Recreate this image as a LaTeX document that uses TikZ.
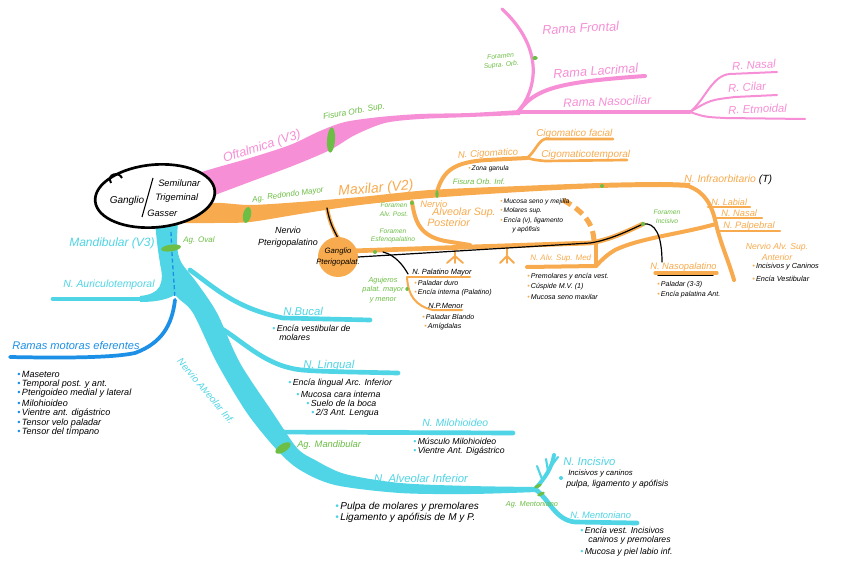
\documentclass[tikz,border=0pt]{standalone}
\usepackage{fontspec}
\setmainfont{Liberation Sans}
\usetikzlibrary{shapes.geometric}
\definecolor{pk}{HTML}{F78FD6}
\definecolor{og}{HTML}{F8AB4E}
\definecolor{cy}{HTML}{4FD5E5}
\definecolor{db}{HTML}{1C8FE6}
\definecolor{gr}{HTML}{6CBE45}
\newcommand\hw[1]{\fontsize{#1}{\fpeval{#1*1.3}}\selectfont\itshape}
\newcommand\bu[1]{\textcolor{#1}{\textbullet}\,}
\begin{document}
\begin{tikzpicture}[x=0.75pt,y=-0.75pt,
  tx/.style={inner sep=0pt, anchor=west, font=\hw{#1}},
  tc/.style={inner sep=0pt, anchor=center, align=center, font=\hw{#1}},
  gband/.style={ellipse, fill=gr, inner sep=0pt},
  pkl/.style={pk, line width=#1, line cap=round},
  ogl/.style={og, line width=#1, line cap=round},
  cyl/.style={cy, line width=#1, line cap=round},
  blk/.style={black, line width=0.9pt, line cap=round}
]
\useasboundingbox (0,0) rectangle (848,566);
\fill[white] (0,0) rectangle (848,566);

% ---------- junction coordinates
\coordinate (pkEnd) at (518,112);
\coordinate (nasoJ) at (690,112);
\coordinate (ogEnd) at (688,186);
\coordinate (cigJ) at (437,192);
\coordinate (cigF) at (527,158);
\coordinate (aspJ) at (412,202);
\coordinate (ptJ) at (327,208);
\coordinate (incJ) at (643,224);
\coordinate (antJ) at (716,224);
\coordinate (medJ) at (596,266);
\coordinate (mandEnd) at (535,489);

% ================= OFTALMICA (pink)
\fill[pk] plot[smooth] coordinates {(182,178) (215,168) (250,158) (290,145) (320,131) (345,122) (380,117) (420,114) (470,113) (520,110)}
  -- plot[smooth] coordinates {(520,115) (470,117) (420,119) (385,123) (355,135) (330,150) (295,165) (255,180) (215,195) (200,201)} -- cycle;
\draw[pkl=2.4pt] (pkEnd) -- (nasoJ);
\draw[pkl=3pt] (pkEnd) .. controls (535,88) and (560,82) .. (645,76);
\draw[pkl=2.4pt] (pkEnd) .. controls (540,85) and (541,45) .. (502,9);
\draw[pkl=1.5pt] (nasoJ) .. controls (705,100) and (712,75) .. (730,74) -- (777,72);
\draw[pkl=1.5pt] (nasoJ) .. controls (710,100) .. (735,97) -- (777,95);
\draw[pkl=1.5pt] (nasoJ) .. controls (705,117) .. (725,118) -- (805,119);
\node[gband, minimum width=6pt, minimum height=19pt, rotate=-4] (gfos) at (331,140) {};
\node[gband, minimum width=4pt, minimum height=3pt] (gfsup) at (535,58) {};

\node[tx=9.5, pk, rotate=3] (rfront) at (542,30) {Rama Frontal};
\node[tx=9.5, pk, rotate=4] (rlac) at (553,74) {Rama Lacrimal};
\node[tx=9, pk, rotate=2] (rnaso) at (563,103) {Rama Nasociliar};
\node[tx=8.5, pk, rotate=3] (rnasal) at (732,66) {R. Nasal};
\node[tx=8.5, pk, rotate=3] (rcil) at (728,88) {R. Cilar};
\node[tx=8.5, pk, rotate=2] (retm) at (728,110) {R. Etmoidal};
\node[tc=9.5, pk, rotate=18] (oft) at (262,147) {Oftalmica (V3)};
\node[tc=6.3, gr, rotate=10] (fos) at (354,112) {Fisura Orb. Sup.};
\node[tc=5, gr, rotate=5] (fsup) at (501,61) {Foramen\\Supra. Orb.};

% ================= MAXILAR (orange)
\fill[og] plot[smooth] coordinates {(190,210) (215,203) (250,205) (300,202) (360,197) (430,190) (520,186) (600,183) (660,182) (690,183)}
  -- plot[smooth] coordinates {(690,188) (660,187) (600,188) (520,192) (430,198) (360,205) (300,214) (250,222) (215,223) (185,223)} -- cycle;
\draw[ogl=3pt] (ogEnd) .. controls (705,192) and (712,205) .. (antJ) .. controls (721,245) and (729,262) .. (734,280);
\draw[ogl=1.6pt] (708,207) -- (750,207);
\draw[ogl=1.6pt] (715,218) -- (762,218);
\draw[ogl=1.6pt] (720,231) -- (780,231);
% cigomatico
\draw[ogl=3pt] (cigJ) .. controls (443,170) and (455,162) .. (487,160) -- (cigF);
\draw[ogl=2pt] (cigF) .. controls (535,160) .. (545,161) -- (627,160);
\draw[ogl=2pt] (cigF) .. controls (535,152) and (538,141) .. (545,139) -- (613,139);
% alveolar sup posterior
\draw[ogl=3pt] (aspJ) .. controls (415,222) and (420,236) .. (445,241) -- (470,245);
% band A + C
\draw[ogl=3.5pt] (350,251) -- (590,243) .. controls (610,240) and (630,230) .. (incJ);
% dashed arc
\draw[og, line width=3.8pt, dash pattern=on 7pt off 4pt] (563,200) .. controls (585,212) and (594,225) .. (594,243);
% roots
\draw[ogl=1.4pt] (455,247) -- (455,256) -- (447,263) (455,256) -- (455,263) (455,256) -- (463,263);
\draw[ogl=1.4pt] (507,245) -- (507,256) -- (500,263) (507,256) -- (507,263) (507,256) -- (514,263);
% curve B to N. Alv. Sup. Med
\draw[ogl=3pt] (antJ) .. controls (680,234) and (640,238) .. (615,250) .. controls (605,256) and (600,262) .. (medJ) -- (527,267);
\draw[ogl=3pt] (596,244) -- (medJ);
% pterigopalatino branch
\draw[ogl=3pt] (ptJ) .. controls (330,225) and (335,232) .. (340,242);
\draw[blk] (ptJ) .. controls (330,225) and (335,232) .. (340,242);
\node[circle, fill=og, inner sep=0pt, minimum size=30pt] (gpt) at (338,257) {};
\node[tc=5.8] (gptt) at (338,257) {Ganglio\\Pterigopalat.};
% black nerve to nasopalatino
\draw[blk] (gpt.east) -- (590,243) .. controls (610,240) and (630,230) .. (incJ) .. controls (655,222) and (662,235) .. (662,262);
% palatinos
\draw[blk] (383,252) .. controls (395,255) and (403,265) .. (408,274);
\draw[ogl=1.5pt] (407,277) -- (470,277);
\draw[ogl=1.5pt] (407,277) .. controls (408,295) and (415,306) .. (433,310) -- (462,310);
% nasopalatino underline
\draw[ogl=2.4pt] (655,273) -- (717,273);
\draw[blk] (658,275.5) -- (713,275.5);
% green marks
\node[gband, minimum width=6pt, minimum height=12pt, rotate=-12] (grm) at (247,215) {};
\node[gband, minimum width=2.5pt, minimum height=6pt] (gfoi) at (437,194) {};
\node[gband, minimum width=3pt, minimum height=3pt] (gap) at (412,203) {};
\node[gband, minimum width=3pt, minimum height=3pt] (gesf) at (375,252) {};
\node[gband, minimum width=3pt, minimum height=3pt] (ginc) at (incJ) {};
\node[gband, minimum width=3pt, minimum height=3pt] (ginfo) at (602,186) {};
\node[gband, minimum width=2.5pt, minimum height=3pt] (gpal) at (407,289) {};

% maxilar texts
\node[tc=10.5, og, rotate=5] (maxl) at (376,189) {Maxilar (V2)};
\node[tc=6, gr, rotate=8] (agrm) at (288,195) {Ag. Redondo Mayor};
\node[tc=7.2, og, rotate=3] (ncig) at (488,154) {N. Cigomatico};
\node[tx=7.5, og] (cigfa) at (536,134) {Cigomatico facial};
\node[tx=7.5, og] (cigte) at (541,155) {Cigomaticotemporal};
\node[tx=5] (zona) at (468,169) {\bu{og}Zona ganula};
\node[tc=5.8, gr] (foi) at (479,182) {Fisura Orb. Inf.};
\node[tc=5, gr] (fap) at (394,210) {Foramen\\Alv. Post.};
\node[tx=7, og] (asp1) at (420,204) {Nervio};
\node[tx=8, og] (asp2) at (432,213) {Alveolar Sup.};
\node[tx=8, og] (asp3) at (427,223) {Posterior};
\node[tx=5] (b1) at (500,202) {\bu{og}Mucosa seno y mejilla};
\node[tx=5] (b2) at (500,211) {\bu{og}Molares sup.};
\node[tx=5] (b3) at (500,221) {\bu{og}Encía (v), ligamento};
\node[tx=5] (b4) at (512,230) {y apófisis};
\node[tc=5, gr] (fesf) at (393,236) {Foramen\\Esfenopalatino};
\node[tc=6.7] (npt) at (288,237) {Nervio\\Pterigopalatino};
\node[tc=5, gr] (finc) at (667,217) {Foramen\\Incisivo};
\node[tx=7.8, og] (ninf) at (684,180) {N. Infraorbitario \textcolor{black}{(T)}};
\node[tx=6.8, og] (nlab) at (711,202) {N. Labial};
\node[tx=7, og] (nnas) at (721,213) {N. Nasal};
\node[tx=7, og] (npal) at (723,226) {N. Palpebral};
\node[tc=6.5, og] (nasa) at (777,252) {Nervio Alv. Sup.\\Anterior};
\node[tx=5.5] (ic) at (752,267) {\bu{og}Incisivos y Caninos};
\node[tx=5.5] (ev) at (752,279) {\bu{og}Encía Vestibular};
\node[tx=7, og] (nnp) at (650,267) {N. Nasopalatino};
\node[tx=5.3] (p33) at (657,285) {\bu{og}Paladar (3-3)};
\node[tx=5.3] (epa) at (657,295) {\bu{og}Encía palatina Ant.};
\node[tx=6, og] (nasm) at (530,258) {N. Alv. Sup. Med};
\node[tx=5.3] (pm1) at (527,277) {\bu{og}Premolares y encía vest.};
\node[tx=5.3] (pm2) at (527,287) {\bu{og}Cúspide M.V. (1)};
\node[tx=5.3] (pm3) at (527,297) {\bu{og}Mucosa seno maxilar};
\node[tx=5.6] (npm) at (412,273) {N. Palatino Mayor};
\node[tx=5.3] (pd) at (414,283) {\bu{og}Paladar duro};
\node[tx=5.3] (ei) at (414,293) {\bu{og}Encía interna (Palatino)};
\node[tx=5.6] (npme) at (428,306) {N.P.Menor};
\node[tx=5.3] (pb) at (422,317) {\bu{og}Paladar Blando};
\node[tx=5.3] (am) at (424,327) {\bu{og}Amígdalas};
\node[tc=5.5, gr] (agp) at (383,290) {Agujeros\\palat. mayor\\y menor};

% ================= MANDIBULAR (cyan)
\fill[cy] plot[smooth] coordinates {(155,222) (158,250) (163,275) (176,296) (193,313) (217,363) (247,413) (277,450) (300,470) (335,485) (400,493) (470,494) (537,492)}
  -- plot[smooth] coordinates {(537,487) (470,486) (400,483) (345,474) (315,460) (297,448) (273,413) (240,363) (217,313) (197,283) (181,262) (177,245) (178,222)} -- cycle;
\fill[cy] (160,262) .. controls (165,285) and (160,294) .. (140,296) -- (140,302) .. controls (165,302) and (178,296) .. (185,285) -- cycle;
\draw[cyl=3.5pt] (145,299) -- (53,299);
\draw[cyl=3.5pt] (190,270) .. controls (215,288) and (235,308) .. (283,318) -- (370,320);
\draw[cyl=3.5pt] (200,318) .. controls (230,328) and (250,355) .. (283,366) .. controls (300,371) .. (398,373);
\draw[cyl=3.5pt] (265,432) -- (513,433);
\draw[cyl=3pt] (mandEnd) .. controls (545,478) and (552,468) .. (554,455);
\draw[cyl=1.6pt] (542,479) -- (537,466);
\draw[cyl=1.6pt] (548,471) -- (546,459);
\draw[cyl=1.6pt] (552,465) -- (558,457);
\draw[cyl=3.5pt] (mandEnd) .. controls (550,500) and (555,520) .. (575,522) -- (637,523);
% dark blue
\draw[db, line width=1pt, dash pattern=on 3pt off 2pt] (171,232) .. controls (172,260) and (174,280) .. (175,300);
\draw[db, line width=2.8pt, line cap=round] (175,300) .. controls (172,325) and (162,343) .. (135,353) .. controls (112,358) and (60,358) .. (10,357);
% green marks
\node[gband, minimum width=15pt, minimum height=5pt, rotate=8] (gov) at (171,248) {};
\node[gband, minimum width=13pt, minimum height=6pt, rotate=33] (gmand) at (283,448) {};
\node[gband, minimum width=6pt, minimum height=2.5pt, rotate=25] (gm1) at (538,486) {};
\node[gband, minimum width=6pt, minimum height=2.5pt, rotate=25] (gm2) at (541,494) {};

% mandibular texts
\node[tc=9, cy] (mand) at (112,243) {Mandibular (V3)};
\node[tx=6, gr] (agov) at (183,240) {Ag. Oval};
\node[tx=7.8, cy] (naur) at (63,285) {N. Auriculotemporal};
\node[tx=8.3, db] (rme) at (12,346) {Ramas motoras eferentes};
\node[tx=6.8] (m1) at (17,374) {\bu{db}Masetero};
\node[tx=6.8] (m2) at (17,384) {\bu{db}Temporal post. y ant.};
\node[tx=6.8] (m3) at (17,393) {\bu{db}Pterigoideo medial y lateral};
\node[tx=6.8] (m4) at (17,403) {\bu{db}Milohioideo};
\node[tx=6.8] (m5) at (17,413) {\bu{db}Vientre ant. digástrico};
\node[tx=6.8] (m6) at (17,423) {\bu{db}Tensor velo paladar};
\node[tx=6.8] (m7) at (17,432) {\bu{db}Tensor del tímpano};
\node[tc=7.3, cy, rotate=-50] (nai) at (206,391) {Nervio Alveolar Inf.};
\node[tx=8.5, cy] (nbuc) at (283,311) {N.Bucal};
\node[tx=6.5] (bu1) at (272,328) {\bu{cy}Encía vestibular de};
\node[tx=6.5] (bu2) at (279,337) {molares};
\node[tx=8.5, cy] (nlin) at (303,366) {N. Lingual};
\node[tx=6.6] (l1) at (288,383) {\bu{cy}Encía lingual Arc. Inferior};
\node[tx=6.6] (l2) at (296,394) {\bu{cy}Mucosa cara interna};
\node[tx=6.6] (l3) at (306,403) {\bu{cy}Suelo de la boca};
\node[tx=6.6] (l4) at (311,413) {\bu{cy}2/3 Ant. Lengua};
\node[tx=7.8, cy] (nmil) at (422,423) {N. Milohioideo};
\node[tx=6.5] (mi1) at (413,441) {\bu{cy}Músculo Milohioideo};
\node[tx=6.5] (mi2) at (413,451) {\bu{cy}Vientre Ant. Digástrico};
\node[tx=7, gr] (agmd) at (297,445) {Ag. Mandibular};
\node[tc=8.5, cy] (nalvi) at (421,478) {N. Alveolar Inferior};
\node[tx=7.5] (ai1) at (335,507) {\bu{cy}Pulpa de molares y premolares};
\node[tx=7.5] (ai2) at (335,518) {\bu{cy}Ligamento y apófisis de M y P.};
\node[tc=5.5, gr] (agmt) at (532,505) {Ag. Mentoniano};
\node[tx=8.5, cy] (ninc) at (563,461) {N. Incisivo};
\node[circle, fill=cy, inner sep=0pt, minimum size=3pt] (incb) at (561,478) {};
\node[tx=5.8] (in1) at (568,473) {Incisivos y caninos};
\node[tx=6.5] (in2) at (566,484) {pulpa, ligamento y apófisis};
\node[tx=7, cy] (nment) at (570,515) {N. Mentoniano};
\node[tx=6.5] (me1) at (580,530) {\bu{cy}Encía vest. Incisivos};
\node[tx=6.5] (me2) at (588,540) {caninos y premolares};
\node[tx=6.5] (me3) at (580,552) {\bu{cy}Mucosa y piel labio inf.};

% ================= GANGLIO DE GASSER
\node[draw, ellipse, line width=2pt, fill=white, minimum width=90pt, minimum height=47pt, rotate=5] (gasser) at (155,196) {};
\draw[line width=1.5pt] (111,183) .. controls (106,174) and (119,171) .. (122,178);
\node[tc=7.5] (gg) at (127,201) {Ganglio};
\draw[line width=0.8pt] (153,178) -- (142,217);
\node[tx=7] (gs1) at (158,183) {Semilunar};
\node[tx=7] (gs2) at (155,198) {Trigeminal};
\node[tx=7] (gs3) at (147,213) {Gasser};
\end{tikzpicture}
\end{document}
